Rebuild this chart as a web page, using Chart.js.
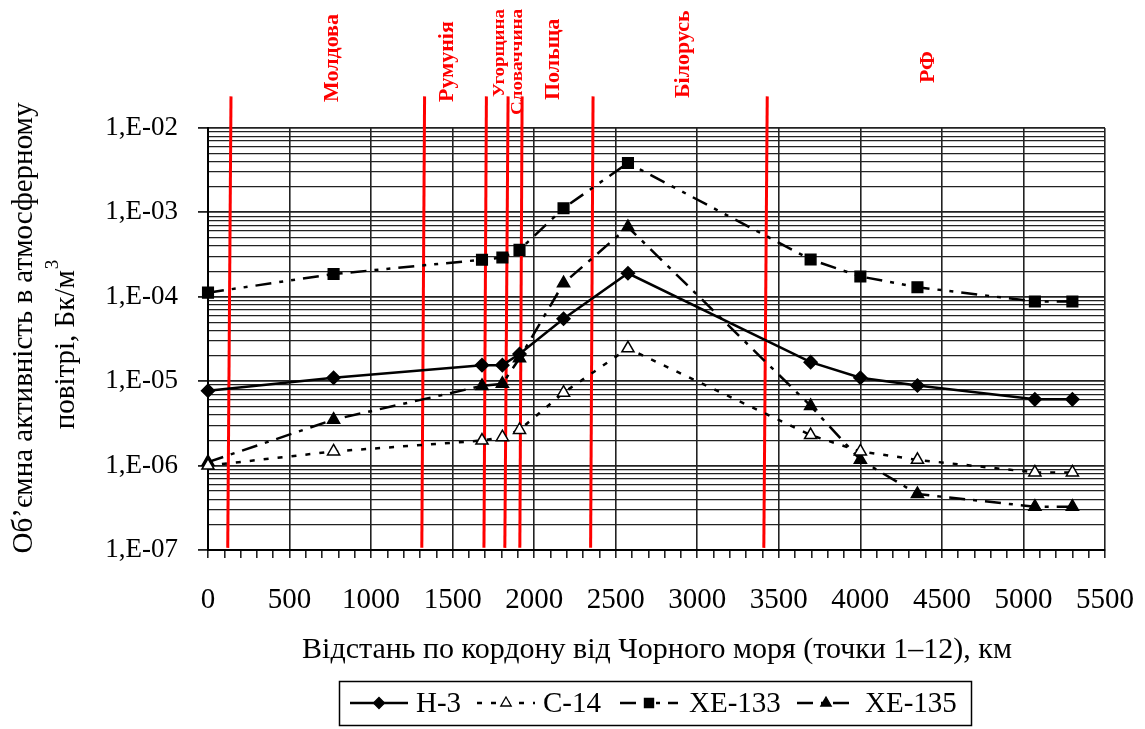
<!DOCTYPE html>
<html>
<head>
<meta charset="utf-8">
<script src="https://cdn.jsdelivr.net/npm/chart.js@4/dist/chart.umd.min.js"></script>
<style>
  body { margin: 0; background: #fff; }
  canvas { display: block; }
</style>
</head>
<body>
<canvas id="myChart" width="1145" height="729"></canvas>
<script>
// ------------------------- data -------------------------
const distanceKm = [0, 770, 1680, 1805, 1910, 2180, 2575, 3695, 4000, 4350, 5070, 5300];
const h3 = [7.7e-6, 1.1e-5, 1.55e-5, 1.55e-5, 2.1e-5, 5.5e-5, 1.9e-4, 1.68e-5, 1.1e-5, 8.9e-6, 6.1e-6, 6.1e-6];
const c14 = [1.0e-6, 1.47e-6, 1.98e-6, 2.17e-6, 2.65e-6, 7.3e-6, 2.45e-5, 2.3e-6, 1.47e-6, 1.17e-6, 8.3e-7, 8.3e-7];
const xe133 = [1.12e-4, 1.86e-4, 2.75e-4, 2.92e-4, 3.6e-4, 1.12e-3, 3.85e-3, 2.77e-4, 1.74e-4, 1.3e-4, 8.8e-5, 8.8e-5];
const xe135 = [1.1e-6, 3.5e-6, 8.8e-6, 9.3e-6, 1.87e-5, 1.45e-4, 6.7e-4, 5.1e-6, 1.17e-6, 4.6e-7, 3.26e-7, 3.26e-7];

// borders between countries (km), red lines are slightly slanted
const borderBottomKm = [121, 1311, 1692, 1820, 1912, 2346, 3408];
const borderTopKm = [141, 1328, 1707, 1840, 1926, 2361, 3429];
const borderLow = 1.06e-7;
const borderHigh = 0.0237;

const countries = ["Молдова", "Румунія", "Угорщина", "Словаччина", "Польща", "Білорусь", "РФ"];
const countryKm = [765, 1470, 1789, 1900, 2120, 2912, 4414];

const yDecades = [1e-7, 1e-6, 1e-5, 1e-4, 1e-3, 1e-2];
const yTickLabels = ["1,E-07", "1,E-06", "1,E-05", "1,E-04", "1,E-03", "1,E-02"];
const xMin = 0;
const xMax = 5500;

const seriesNames = ["H-3", "C-14", "XE-133", "XE-135"];

// ------------------------- styles -------------------------
const serif = "'Liberation Serif', 'Times New Roman', serif";
const seriesStyle = [
  { dash: [], point: "rectRot", radius: 6.5, fill: "#000" },
  { dash: [5, 9], point: "triangle", radius: 7, fill: "#fff" },
  { dash: [16, 8, 4, 8, 4, 8], point: "rect", radius: 7.5, fill: "#000" },
  { dash: [16, 8, 4, 8], point: "triangle", radius: 7, fill: "#000" },
];
const countryFont = [22, 22, 17, 17, 22, 22, 22];
// text length along the red label (only the two narrow ones are stretched)
const countryLength = [0, 0, 88, 106, 0, 0, 0];
const countryBottom = [102, 102, 97, 115, 100, 98, 83];

function toPoints(values) {
  return values.map((v, i) => ({ x: distanceKm[i], y: v }));
}

const seriesData = [h3, c14, xe133, xe135];
const datasets = seriesData.map((values, i) => ({
  label: seriesNames[i],
  data: toPoints(values),
  borderColor: "#000",
  borderWidth: 2.5,
  borderDash: seriesStyle[i].dash,
  pointStyle: seriesStyle[i].point,
  pointRadius: seriesStyle[i].radius,
  pointBackgroundColor: seriesStyle[i].fill,
  pointBorderColor: "#000",
  pointBorderWidth: 1.5,
  tension: 0,
  clip: false,
  order: 1,
}));

borderBottomKm.forEach((km, i) => {
  datasets.push({
    label: "border" + i,
    data: [
      { x: km, y: borderLow },
      { x: borderTopKm[i], y: borderHigh },
    ],
    borderColor: "#ff0000",
    borderWidth: 3,
    pointRadius: 0,
    clip: false,
    order: 10,
  });
});

function isDecade(v) {
  return yDecades.some((d) => Math.abs(v / d - 1) < 1e-6);
}

// ------------------------- extra drawing -------------------------
function drawMarker(ctx, style, x, y, r) {
  ctx.save();
  ctx.fillStyle = style.fill;
  ctx.strokeStyle = "#000";
  ctx.lineWidth = 1.3;
  ctx.setLineDash([]);
  ctx.beginPath();
  if (style.point === "rectRot") {
    ctx.moveTo(x, y - r);
    ctx.lineTo(x + r, y);
    ctx.lineTo(x, y + r);
    ctx.lineTo(x - r, y);
  } else if (style.point === "rect") {
    ctx.rect(x - r * 0.7, y - r * 0.7, r * 1.4, r * 1.4);
  } else {
    ctx.moveTo(x, y - r);
    ctx.lineTo(x + r * 0.866, y + r * 0.5);
    ctx.lineTo(x - r * 0.866, y + r * 0.5);
  }
  ctx.closePath();
  ctx.fill();
  ctx.stroke();
  ctx.restore();
}

const extras = {
  id: "extras",
  afterDraw(chart) {
    const { ctx, scales } = chart;
    const x = scales.x;

    // country names
    ctx.save();
    ctx.fillStyle = "#ff0000";
    countries.forEach((name, i) => {
      ctx.save();
      ctx.font = "bold " + countryFont[i] + "px " + serif;
      const w = ctx.measureText(name).width;
      const stretch = countryLength[i] ? countryLength[i] / w : 1;
      ctx.translate(x.getPixelForValue(countryKm[i]), countryBottom[i]);
      ctx.rotate(-Math.PI / 2);
      ctx.scale(stretch, 1);
      ctx.textAlign = "left";
      ctx.textBaseline = "middle";
      ctx.fillText(name, 0, 0);
      ctx.restore();
    });
    ctx.restore();

    // y title
    ctx.save();
    ctx.fillStyle = "#000";
    ctx.font = "29px " + serif;
    ctx.textBaseline = "middle";
    ctx.textAlign = "center";
    ctx.save();
    ctx.translate(24, 328);
    ctx.rotate(-Math.PI / 2);
    ctx.fillText("Об’ємна активність в атмосферному", 0, 0);
    ctx.restore();
    ctx.save();
    ctx.translate(66, 345);
    ctx.rotate(-Math.PI / 2);
    const main = "повітрі, Бк/м";
    const wMain = ctx.measureText(main).width;
    ctx.font = "19px " + serif;
    const wSup = ctx.measureText("3").width;
    const start = -(wMain + wSup) / 2;
    ctx.textAlign = "left";
    ctx.font = "29px " + serif;
    ctx.fillText(main, start, 0);
    ctx.font = "19px " + serif;
    ctx.fillText("3", start + wMain + 1, -13);
    ctx.restore();

    // x title
    ctx.textAlign = "center";
    ctx.font = "30px " + serif;
    ctx.fillText("Відстань по кордону від Чорного моря (точки 1–12), км", 657, 650);
    ctx.restore();

    // legend
    ctx.save();
    ctx.strokeStyle = "#000";
    ctx.lineWidth = 1.5;
    ctx.strokeRect(339.5, 681.5, 632, 44);
    const ly = 703;
    const sampleX = [350, 477, 620, 797];
    const textX = [416, 543, 689, 865];
    const markerR = [5.5, 6, 6.5, 6];
    seriesNames.forEach((name, i) => {
      ctx.save();
      ctx.lineWidth = 2.5;
      ctx.setLineDash(seriesStyle[i].dash);
      ctx.beginPath();
      ctx.moveTo(sampleX[i], ly);
      ctx.lineTo(sampleX[i] + 58, ly);
      ctx.stroke();
      ctx.restore();
      drawMarker(ctx, seriesStyle[i], sampleX[i] + 29, ly, markerR[i]);
      ctx.fillStyle = "#000";
      ctx.font = "29px " + serif;
      ctx.textAlign = "left";
      ctx.textBaseline = "middle";
      ctx.fillText(name, textX[i], ly + 1);
    });
    ctx.restore();
  },
};

// ------------------------- chart -------------------------
new Chart(document.getElementById("myChart"), {
  type: "line",
  data: { datasets },
  plugins: [extras],
  options: {
    responsive: false,
    animation: false,
    layout: { padding: { top: 128, right: 40, left: 0, bottom: 0 } },
    plugins: {
      legend: { display: false },
      tooltip: { enabled: false },
    },
    scales: {
      x: {
        type: "linear",
        min: xMin,
        max: xMax,
        afterFit: (s) => {
          s.height = 179;
          s.paddingLeft = 0;
          s.paddingRight = 0;
        },
        ticks: {
          stepSize: 100,
          autoSkip: false,
          maxRotation: 0,
          padding: 25,
          color: "#000",
          font: { family: serif, size: 29 },
          callback: (v) => (v % 500 === 0 ? String(v) : ""),
        },
        grid: {
          color: (c) => (c.tick && c.tick.value % 500 === 0 ? "#222" : "rgba(0,0,0,0)"),
          tickColor: "#222",
          tickLength: 8,
          lineWidth: 1.6,
        },
        border: { color: "#000", width: 2 },
      },
      y: {
        type: "logarithmic",
        min: yDecades[0],
        max: yDecades[yDecades.length - 1],
        afterFit: (s) => {
          s.width = 208;
          s.paddingTop = 0;
          s.paddingBottom = 0;
        },
        afterBuildTicks: (s) => {
          const ticks = [];
          yDecades.forEach((d, i) => {
            if (i === yDecades.length - 1) {
              ticks.push({ value: d, major: true });
              return;
            }
            for (let m = 1; m <= 9; m++) ticks.push({ value: d * m, major: m === 1 });
          });
          s.ticks = ticks;
        },
        ticks: {
          autoSkip: false,
          padding: 20,
          color: "#000",
          font: { family: serif, size: 27 },
          callback: (v) => {
            const idx = yDecades.findIndex((d) => Math.abs(v / d - 1) < 1e-6);
            return idx >= 0 ? yTickLabels[idx] : "";
          },
        },
        grid: {
          color: "#222",
          lineWidth: (c) => (c.tick && isDecade(c.tick.value) ? 1.8 : 1.3),
          tickColor: (c) => (c.tick && isDecade(c.tick.value) ? "#222" : "rgba(0,0,0,0)"),
          tickLength: 10,
        },
        border: { color: "#000", width: 2 },
      },
    },
  },
});
</script>
</body>
</html>
